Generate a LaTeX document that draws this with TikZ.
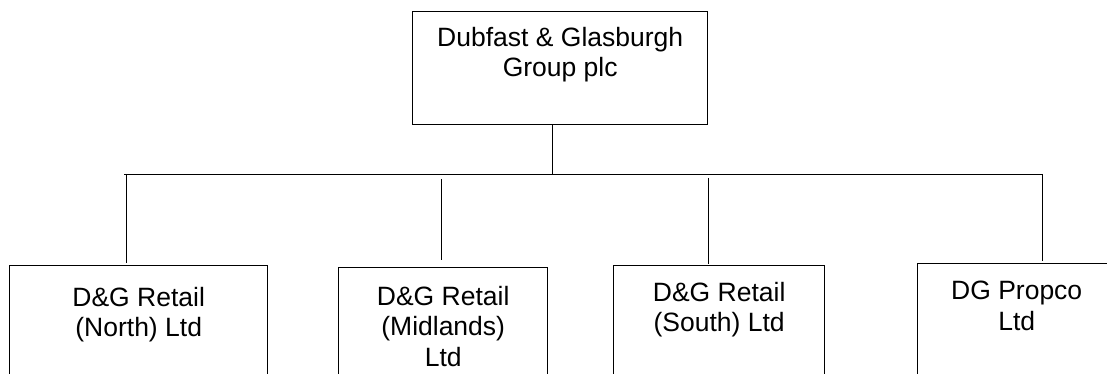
\documentclass[tikz,border=0pt]{standalone}
\usepackage{fontspec}
\setmainfont{Liberation Sans}
\usetikzlibrary{positioning}

% box of given width, height, top gap and text
\newcommand{\firmtext}[4]{\parbox[c][#2][t]{#1}{\centering\vspace{#3}#4\par}}

\begin{document}
\begin{tikzpicture}
[
	              x = 1pt,
	              y = -1pt,
	    firm/.style = { draw=black, line width=1.4pt, inner sep=0pt, anchor=north west,
	                    font=\fontsize{26.5}{30.2}\selectfont },
	    link/.style = { draw=black, line width=0.9pt }
]
	\useasboundingbox (0,0) rectangle (1107,374);
	\clip (0,0) rectangle (1107,374);

	% parent
	\node (Group) at (412,11) [firm] {\firmtext{295pt}{113pt}{15.7pt}{Dubfast \& Glasburgh\\Group plc}};

	% subsidiaries
	\node (North)  at (9,265)   [firm] {\firmtext{258pt}{140pt}{21.5pt}{D\&G Retail\\(North) Ltd}};
	\node (Mids)   at (338,267) [firm] {\firmtext{209pt}{140pt}{18.7pt}{D\&G Retail\\(Midlands)\\Ltd}};
	\node (South)  at (613,265) [firm] {\firmtext{211pt}{140pt}{16.7pt}{D\&G Retail\\(South) Ltd}};
	\node (Propco) at (917,263) [firm] {\firmtext{198pt}{140pt}{17.7pt}{DG Propco\\Ltd}};

	% bus points
	\coordinate (busW) at (124,174);
	\coordinate (busE) at (1043,174);
	\coordinate (hub)  at (552,174);
	\coordinate (dN)   at (126,174);
	\coordinate (dM)   at (441,174);
	\coordinate (dS)   at (708,174);
	\coordinate (dP)   at (1042,174);

	% edges
	\draw [link] (hub |- Group.south) -- (hub);
	\draw [link] (busW) -- (busE);
	\draw [link, shorten >=2pt] (dN) -- (dN |- North.north);
	\draw [link, shorten <=5pt, shorten >=7pt] (dM) -- (dM |- Mids.north);
	\draw [link, shorten <=4pt, shorten >=1pt] (dS) -- (dS |- South.north);
	\draw [link, shorten >=2pt] (dP) -- (dP |- Propco.north);
\end{tikzpicture}
\end{document}
